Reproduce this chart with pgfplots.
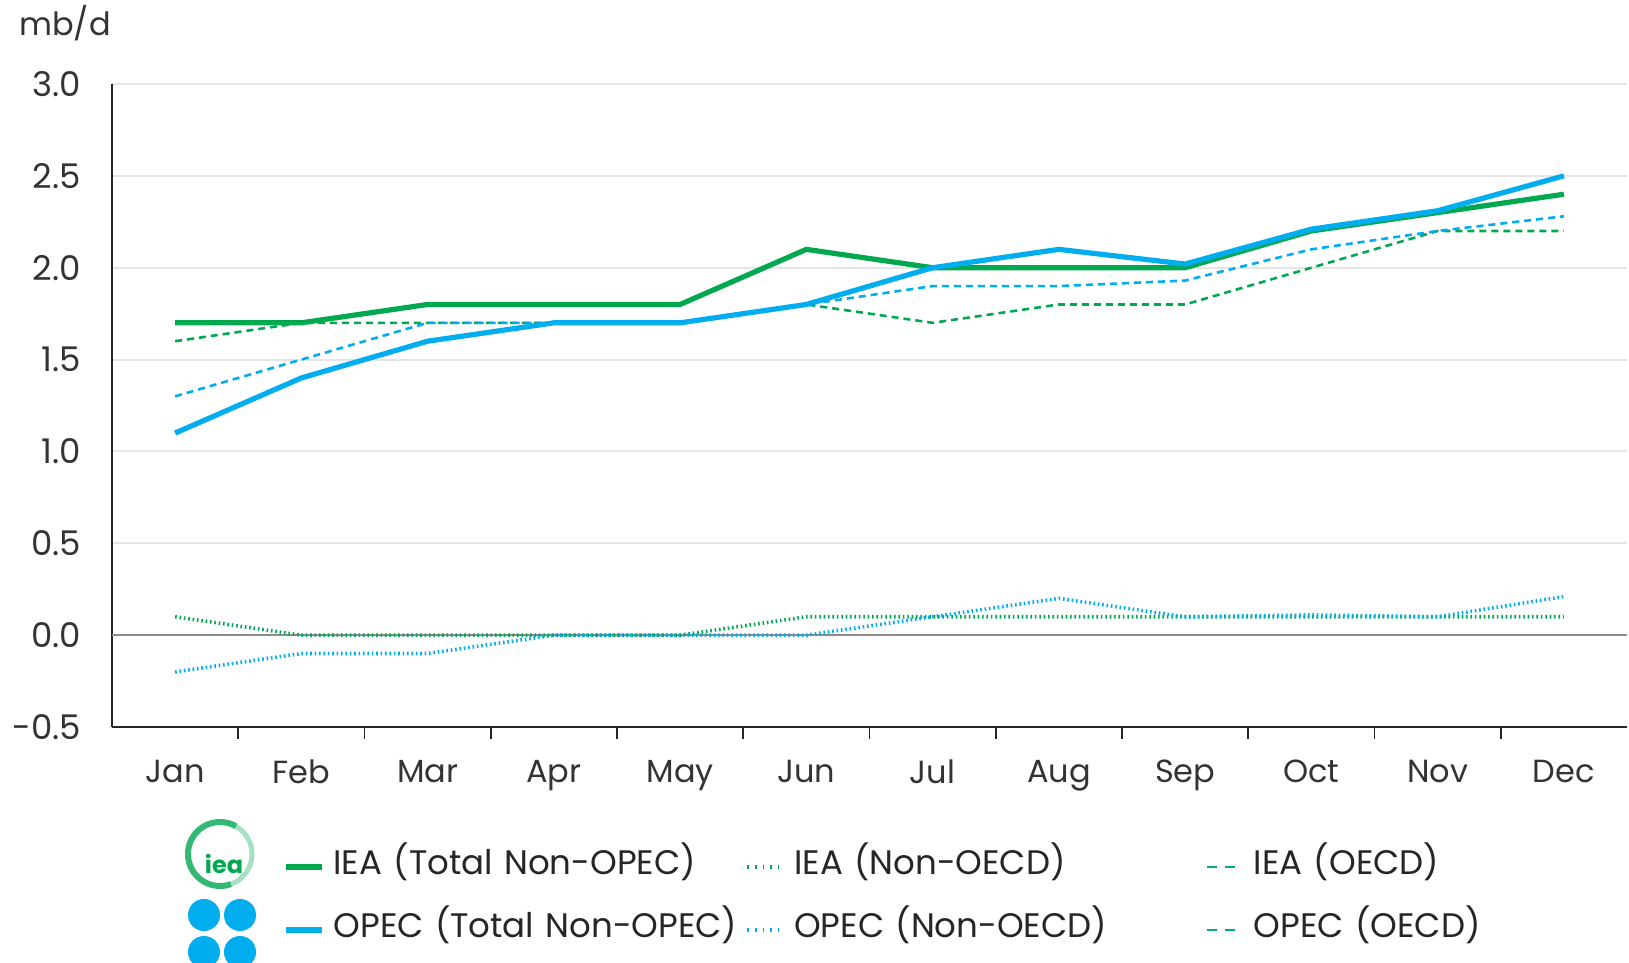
\documentclass[border=0pt]{standalone}
\usepackage{pgfplots}
\pgfplotsset{compat=1.18}
\usepackage{fontspec}
\setmainfont{Poppins}
\definecolor{ieagreen}{RGB}{0,168,80}
\definecolor{opecblue}{RGB}{0,174,239}
\newcommand{\chartfont}{\fontsize{16}{19}\selectfont}
\newcommand{\legfont}{\fontsize{17}{20}\selectfont}
\begin{document}
\begin{tikzpicture}
\path[use as bounding box] (0,0) rectangle (814.5pt,-481.5pt);
\node[anchor=west, font=\chartfont, text=black!80, inner sep=0pt] at (9.5pt,-11.5pt) {mb/d};
% logos (decoration)
\draw[ieagreen!35, line width=2.5pt] (110pt,-427pt) circle (16pt);
\draw[ieagreen!80, line width=3pt] (110pt,-427pt) ++(60:16pt) arc (60:290:16pt);
\node[font=\bfseries\fontsize{12}{12}\selectfont, text=ieagreen, inner sep=0pt] at (112pt,-432pt) {iea};
\fill[opecblue] (102pt,-457.5pt) circle (8pt);
\fill[opecblue] (120pt,-457.5pt) circle (8pt);
\fill[opecblue] (102pt,-476pt) circle (8pt);
\fill[opecblue] (120pt,-476pt) circle (8pt);
\draw[white, line width=1.5pt] (111pt,-448pt) -- (111pt,-482pt);
\begin{axis}[
  at={(56pt,-363.5pt)}, anchor=south west,
  scale only axis, width=757.5pt, height=321.5pt,
  xmin=-0.5, xmax=11.5, ymin=-0.5, ymax=3,
  axis lines=left, axis line style={-, black!85, line width=0.8pt},
  xtick={0,...,11},
  xticklabels={Jan,Feb,Mar,Apr,May,Jun,Jul,Aug,Sep,Oct,Nov,Dec},
  minor xtick={0.5,1.5,...,10.5},
  major tick length=0pt, minor tick length=6pt, tick align=outside,
  tick style={black!85, line width=0.8pt},
  ytick={-0.5,0,...,3},
  yticklabels={-0.5,0.0,0.5,1.0,1.5,2.0,2.5,3.0},
  ymajorgrids, grid style={black!10, line width=1pt},
  extra y ticks={0}, extra y tick labels={},
  extra y tick style={grid style={black!45, line width=1.2pt}},
  tick label style={font=\chartfont, text=black!80},
  yticklabel style={xshift=-12pt, font=\legfont},
  xticklabel style={yshift=-13pt},
  clip=false,
  legend columns=3,
  legend cell align=left,
  legend image code/.code={\draw[#1] (0pt,0pt) -- (18pt,0pt);},
  legend style={draw=none, fill=none, inner sep=0pt,
    at={(axis description cs:0,0)}, anchor=north west,
    xshift=85.5pt, yshift=-59.75pt,
    font=\legfont,
    nodes={text width=203pt, inner xsep=3pt, inner ysep=2pt, text height=12pt, text depth=4pt, text=black!85},
    /tikz/every odd column/.append style={column sep=1.5pt},
    /tikz/row sep=11.5pt},
]
% dotted non-OECD
\addplot[forget plot, ieagreen, line width=1.8pt, dash pattern=on 0.8pt off 1.4pt] coordinates {
(0,0.1) (1,0.0) (2,0.0) (3,0.0) (4,0.0) (5,0.1) (6,0.1) (7,0.1) (8,0.1) (9,0.1) (10,0.1) (11,0.1)};
\addplot[forget plot, opecblue, line width=1.8pt, dash pattern=on 0.8pt off 1.4pt] coordinates {
(0,-0.2) (1,-0.1) (2,-0.1) (3,0.0) (4,0.0) (5,0.0) (6,0.1) (7,0.2) (8,0.1) (9,0.11) (10,0.1) (11,0.21)};
% dashed OECD
\addplot[forget plot, ieagreen, line width=1.3pt, dash pattern=on 3.5pt off 2.5pt] coordinates {
(0,1.6) (1,1.7) (2,1.7) (3,1.7) (4,1.7) (5,1.8) (6,1.7) (7,1.8) (8,1.8) (9,2.0) (10,2.2) (11,2.2)};
\addplot[forget plot, opecblue, line width=1.3pt, dash pattern=on 3.5pt off 2.5pt] coordinates {
(0,1.3) (1,1.5) (2,1.7) (3,1.7) (4,1.7) (5,1.8) (6,1.9) (7,1.9) (8,1.93) (9,2.1) (10,2.2) (11,2.28)};
% totals
\addplot[forget plot, ieagreen, line width=2.6pt] coordinates {
(0,1.7) (1,1.7) (2,1.8) (3,1.8) (4,1.8) (5,2.1) (6,2.0) (7,2.0) (8,2.0) (9,2.2) (10,2.3) (11,2.4)};
\addplot[forget plot, opecblue, line width=2.6pt] coordinates {
(0,1.1) (1,1.4) (2,1.6) (3,1.7) (4,1.7) (5,1.8) (6,2.0) (7,2.1) (8,2.02) (9,2.21) (10,2.31) (11,2.5)};
% legend
\addlegendimage{ieagreen, line width=2.6pt}
\addlegendentry{IEA (Total Non-OPEC)}
\addlegendimage{ieagreen, line width=1.8pt, dash pattern=on 0.8pt off 3pt}
\addlegendentry{IEA (Non-OECD)}
\addlegendimage{ieagreen!60!opecblue, line width=1.3pt, dash pattern=on 5pt off 4pt}
\addlegendentry{IEA (OECD)}
\addlegendimage{opecblue, line width=2.6pt}
\addlegendentry{OPEC (Total Non-OPEC)}
\addlegendimage{opecblue, line width=1.8pt, dash pattern=on 0.8pt off 3pt}
\addlegendentry{OPEC (Non-OECD)}
\addlegendimage{ieagreen!60!opecblue, line width=1.3pt, dash pattern=on 5pt off 4pt}
\addlegendentry{OPEC (OECD)}
\end{axis}
\end{tikzpicture}
\end{document}
